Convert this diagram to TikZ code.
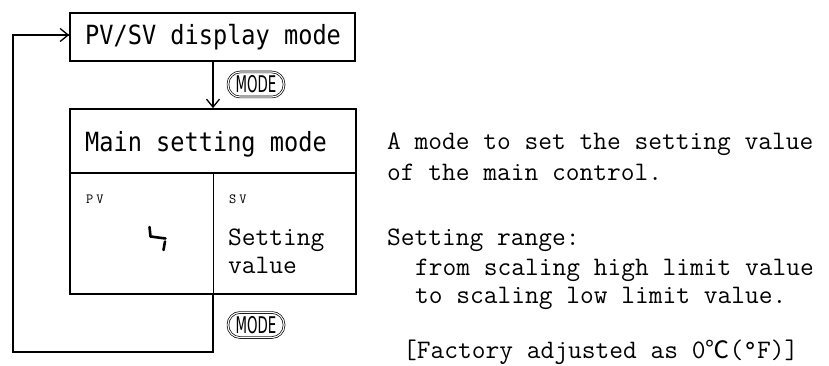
\documentclass[tikz,border=0pt]{standalone}
\usepackage{fontspec}
\setmonofont{Latin Modern Mono}
\newfontfamily\gothic{DejaVu Sans Mono}
\newfontfamily\keyfont{DejaVu Sans}
\newfontfamily\cjk{Noto Sans CJK JP}
\usetikzlibrary{arrows.meta}

\newcommand\gothictext{\gothic\fontsize{23.6}{28}\selectfont}
\newcommand\serifmono{\ttfamily\fontsize{26.7}{30}\selectfont}
\newcommand\tinymono{\ttfamily\fontsize{14}{16}\selectfont}
\newcommand\tallsans[1]{\scalebox{1}[1.12]{#1}}

\tikzset{
  frame/.style={draw, line width=1.7pt, inner sep=0pt},
  cellline/.style={line width=0.8pt},
  label/.style={anchor=base west, inner sep=0pt},
  flow/.style={line width=1.5pt, -{Straight Barb[length=8pt,width=13pt,line width=1.3pt]}},
  loopline/.style={line width=1.7pt},
  modekey/.style={draw, double=white, double distance=1.1pt, line width=0.7pt,
    rounded corners=12pt, minimum width=56pt, minimum height=25pt, inner sep=0pt,
    font=\keyfont\fontsize{23}{23}\selectfont},
  segment/.style={line width=2.6pt, line cap=round}
}

\begin{document}
\begin{tikzpicture}[x=1pt, y=-1pt]
  \useasboundingbox (0,0) rectangle (829,366);

  % upper mode box
  \node[frame, minimum width=285pt, minimum height=48pt] (top) at (212.5,37) {};
  \node[label, font=\gothictext] (toptext) at (85,45) {\tallsans{PV/SV display mode}};

  % main setting mode box with its title row and two cells
  \node[frame, minimum width=286pt, minimum height=185pt] (main) at (213,201.5) {};
  \coordinate (headL) at (70,173);
  \coordinate (headR) at (356,173);
  \draw[line width=1.3pt] (headL) -- (headR);
  \coordinate (divtop) at (213,173);
  \coordinate (divbot) at (213,294);
  \draw[cellline] (divtop) -- (divbot);
  \node[label, font=\gothictext] (maintext) at (85,152) {\tallsans{Main setting mode}};

  \node[label, font=\tinymono] (pv) at (86,203) {P\hspace{3pt}V};
  \node[label, font=\tinymono] (sv) at (229,203) {S\hspace{3pt}V};
  \node[label, font=\serifmono] (set1) at (228,245) {Setting};
  \node[label, font=\serifmono] (set2) at (228,273) {value};

  % segment-display character in the PV cell
  \coordinate (s1) at (149.5,227);
  \coordinate (s2) at (150.5,236.5);
  \coordinate (s3) at (165.5,238.5);
  \coordinate (s4) at (165,241.5);
  \coordinate (s5) at (163.5,250);
  \draw[segment] (s1) -- (s2);
  \draw[segment] (s2) -- (s3);
  \draw[segment] (s4) -- (s5);

  % MODE keys
  \node[modekey] (key1) at (256,84.5) {\scalebox{0.58}[1]{MODE}};
  \node[modekey] (key2) at (256,325) {\scalebox{0.58}[1]{MODE}};

  % connectors
  \draw[flow] (top.south -| divtop) -- (main.north -| divtop);
  \coordinate (lp1) at (213,352);
  \coordinate (lp2) at (13,352);
  \coordinate (lp3) at (13,35);
  \draw[loopline] (divbot) -- (lp1) -- (lp2) -- (lp3) -- (lp3 -| top.west);
  \draw[flow] (lp3) -- (lp3 -| top.west);

  % description
  \node[label, font=\serifmono] (d1) at (387,150) {A mode to set the setting value};
  \node[label, font=\serifmono] (d2) at (387,181) {of the main control.};
  \node[label, font=\serifmono] (d3) at (387,245) {Setting range:};
  \node[label, font=\serifmono] (d4) at (415,275) {from scaling high limit value};
  \node[label, font=\serifmono] (d5) at (415,303) {to scaling low limit value.};
  \node[label, font=\serifmono] (d6) at (403,358) {[Factory adjusted as 0{\cjk\fontsize{24}{24}\selectfont ℃}(°F)]};
\end{tikzpicture}
\end{document}
